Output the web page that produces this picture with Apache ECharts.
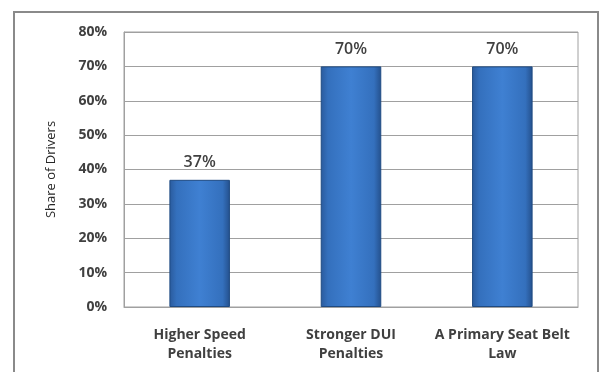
<!DOCTYPE html>
<html>
<head>
<meta charset="utf-8">
<script src="https://cdn.jsdelivr.net/npm/echarts@6/dist/echarts.min.js"></script>
<style>
html,body{margin:0;padding:0;background:#fff;}
#c{width:599px;height:372px;}
</style>
</head>
<body>
<div id="c"></div>
<script>
var categories = ['Higher Speed\nPenalties', 'Stronger DUI\nPenalties', 'A Primary Seat Belt\nLaw'];
var shareValues = [37, 70, 70];
var yTicks = {min: 0, max: 80, interval: 10};
var yName = 'Share of Drivers';

var chart = echarts.init(document.getElementById('c'), null, {renderer: 'canvas'});
var barColor = new echarts.graphic.LinearGradient(0, 0, 1, 0, [
  {offset: 0, color: '#2a5a9c'},
  {offset: 0.12, color: '#3470bd'},
  {offset: 0.5, color: '#3f80d2'},
  {offset: 0.88, color: '#3470bd'},
  {offset: 1, color: '#24508c'}
]);
chart.setOption({
  animation: false,
  backgroundColor: '#ffffff',
  graphic: [{
    type: 'rect',
    shape: {x: 14, y: 12, width: 584, height: 400},
    style: {fill: 'none', stroke: '#8a8a8a', lineWidth: 2},
    z: 0
  }],
  grid: {left: 124, right: 21, top: 32, bottom: 65, show: true, borderColor: '#a0a0a0', borderWidth: 1},
  xAxis: {
    type: 'category',
    data: categories,
    axisLine: {lineStyle: {color: '#a0a0a0'}},
    axisTick: {show: false},
    axisLabel: {
      interval: 0, hideOverlap: false,
      color: '#404040', fontFamily: 'Open Sans', fontWeight: 'bold', fontSize: 14,
      lineHeight: 19, margin: 19
    }
  },
  yAxis: {
    type: 'value',
    min: yTicks.min, max: yTicks.max, interval: yTicks.interval,
    name: yName,
    nameLocation: 'middle',
    nameGap: 66,
    nameTextStyle: {color: '#262626', fontFamily: 'Open Sans', fontSize: 13},
    axisLine: {show: true, lineStyle: {color: '#a0a0a0'}},
    axisTick: {show: false},
    axisLabel: {
      color: '#404040', fontFamily: 'Open Sans', fontWeight: 'bold', fontSize: 14,
      margin: 17, formatter: '{value}%'
    },
    splitLine: {lineStyle: {color: '#a0a0a0'}}
  },
  series: [{
    type: 'bar',
    data: shareValues,
    barWidth: '40%',
    itemStyle: {color: barColor, borderColor: '#1e4a82', borderWidth: 1},
    label: {
      show: true, position: 'top', formatter: '{c}%',
      color: '#404040', fontFamily: 'Open Sans', fontWeight: 600, fontSize: 16, distance: 9
    }
  }]
});
</script>
</body>
</html>
